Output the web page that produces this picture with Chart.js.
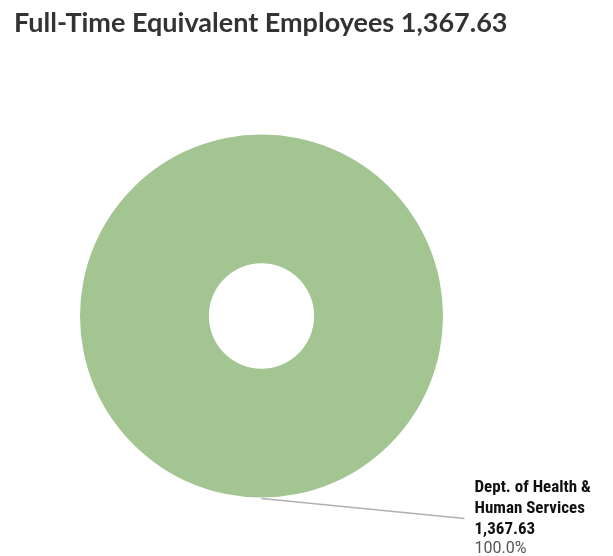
<!DOCTYPE html>
<html>
<head>
<meta charset="utf-8">
<script src="https://cdn.jsdelivr.net/npm/chart.js@4/dist/chart.umd.min.js"></script>
<style>
  html, body { margin: 0; padding: 0; background: #fff; }
  #wrap { position: relative; width: 613px; height: 556px; }
  #title { position: absolute; left: 14px; top: 8px; margin: 0; font-family: Lato, sans-serif; font-weight: 700; font-size: 27px; line-height: 1; color: #333; white-space: nowrap; }
</style>
</head>
<body>
<div id="wrap">
  <h1 id="title"></h1>
  <canvas id="c" width="613" height="556"></canvas>
</div>
<script>
const TITLE = 'Full-Time Equivalent Employees';
const departments = ['Dept. of Health & Human Services'];
const labelLines = [['Dept. of Health &', 'Human Services']];
const fte = [1367.63];
const colors = ['#a3c592'];

const total = fte.reduce((a, b) => a + b, 0);
const fmt = v => v.toLocaleString('en-US', { minimumFractionDigits: 2, maximumFractionDigits: 2 });
document.getElementById('title').textContent = TITLE + ' ' + fmt(total);

// leader line + callout text for each slice
const calloutPlugin = {
  id: 'callout',
  afterDatasetsDraw(chart) {
    const ctx = chart.ctx;
    const meta = chart.getDatasetMeta(0);
    meta.data.forEach((arc, i) => {
      const mid = (arc.startAngle + arc.endAngle) / 2;
      const x0 = arc.x + Math.cos(mid) * (arc.outerRadius + 1);
      const y0 = arc.y + Math.sin(mid) * (arc.outerRadius + 1);
      const x1 = x0 + 203, y1 = y0 + 20;
      ctx.save();
      ctx.strokeStyle = '#b0b0b0';
      ctx.lineWidth = 1.5;
      ctx.beginPath();
      ctx.moveTo(x0, y0);
      ctx.lineTo(x1, y1);
      ctx.stroke();

      const tx = x1 + 10;
      let ty = y1 - 27;
      ctx.textBaseline = 'alphabetic';
      ctx.fillStyle = '#111';
      ctx.font = 'bold 17px "Liberation Sans Narrow", "Roboto Condensed", Roboto, sans-serif';
      const lines = labelLines[i].concat([fmt(fte[i])]);
      lines.forEach(l => { ctx.fillText(l, tx, ty); ty += 21; });
      ctx.fillStyle = '#555';
      ctx.font = '16px "Liberation Sans Narrow", Roboto, sans-serif';
      ctx.fillText((fte[i] / total * 100).toFixed(1) + '%', tx, ty - 2);
      ctx.restore();
    });
  }
};

new Chart(document.getElementById('c'), {
  type: 'doughnut',
  data: {
    labels: departments,
    datasets: [{ data: fte, backgroundColor: colors, borderWidth: 0 }],
  },
  options: {
    responsive: false,
    animation: false,
    cutout: '29%',
    layout: { padding: { left: 80, right: 170, top: 134, bottom: 58 } },
    plugins: { legend: { display: false }, tooltip: { enabled: false } },
  },
  plugins: [calloutPlugin],
});
</script>
</body>
</html>
